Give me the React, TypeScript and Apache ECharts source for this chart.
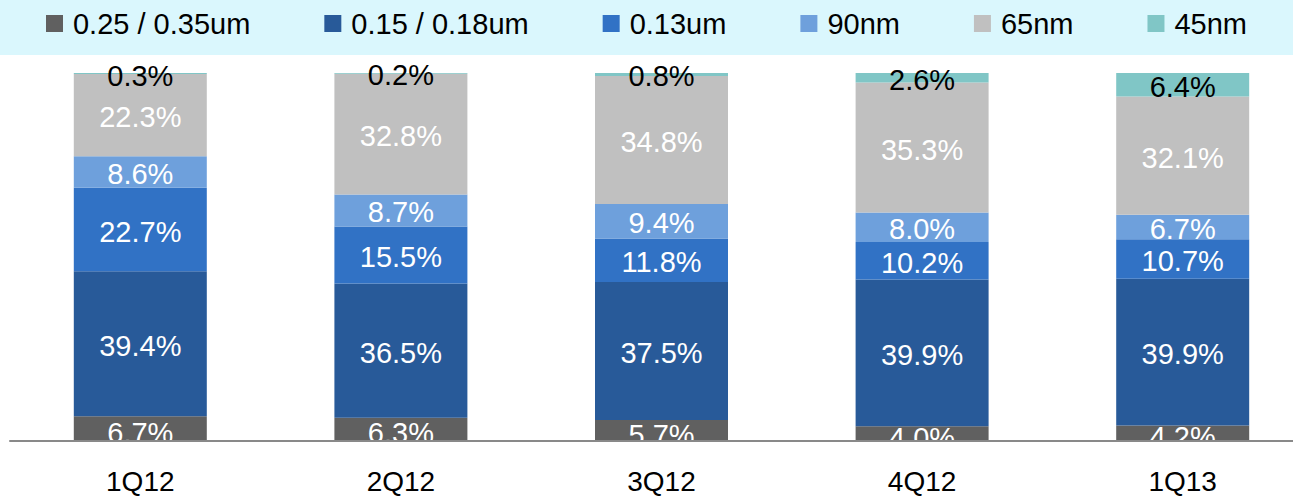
import React, { useEffect, useRef } from "react";
import * as echarts from "echarts";

const categories = ["1Q12", "2Q12", "3Q12", "4Q12", "1Q13"];
const seriesNames = ["0.25 / 0.35um", "0.15 / 0.18um", "0.13um", "90nm", "65nm", "45nm"];
const s025_035 = [6.7, 6.3, 5.7, 4.0, 4.2];
const s015_018 = [39.4, 36.5, 37.5, 39.9, 39.9];
const s013 = [22.7, 15.5, 11.8, 10.2, 10.7];
const s90 = [8.6, 8.7, 9.4, 8.0, 6.7];
const s65 = [22.3, 32.8, 34.8, 35.3, 32.1];
const s45 = [0.3, 0.2, 0.8, 2.6, 6.4];

const seriesValues = [s025_035, s015_018, s013, s90, s65, s45];
const colors = ["#606060", "#285A99", "#3172C5", "#6EA0DC", "#C0C0C0", "#80C6C6"];
const labelColors = ["#FFFFFF", "#FFFFFF", "#FFFFFF", "#FFFFFF", "#FFFFFF", "#000000"];

const FONT = "'Liberation Sans', Arial, sans-serif";

export default function App() {
  const ref = useRef<HTMLDivElement>(null);
  useEffect(() => {
    if (!ref.current) return;
    const chart = echarts.init(ref.current, undefined, { renderer: "svg" });
    chart.setOption({
      animation: false,
      textStyle: { fontFamily: FONT },
      graphic: [
        {
          type: "rect",
          z: -10,
          silent: true,
          shape: { x: 0, y: 0, width: 1293, height: 55 },
          style: { fill: "#DAF7FD" },
        },
        {
          type: "rect",
          z: 3,
          silent: true,
          shape: { x: 0, y: 441, width: 1293, height: 58 },
          style: { fill: "#FFFFFF" },
        },
      ],
      legend: {
        data: seriesNames,
        left: "center",
        top: 4,
        icon: "rect",
        itemWidth: 17,
        itemHeight: 17,
        itemGap: 74,
        textStyle: { fontSize: 29, color: "#000", fontFamily: FONT, padding: [0, 0, 0, 5] },
      },
      grid: {
        left: 10,
        width: 1303,
        top: 73,
        bottom: 58,
        containLabel: false,
        outerBoundsMode: "none",
      },
      xAxis: {
        type: "category",
        data: categories,
        z: 10,
        axisLine: { show: true, lineStyle: { color: "#898989", width: 2 } },
        axisTick: { show: false },
        axisLabel: { fontSize: 28, color: "#000", margin: 26, fontFamily: FONT },
      },
      yAxis: {
        type: "value",
        min: 0,
        max: 100,
        show: false,
        splitLine: { show: false },
      },
      series: seriesNames.map((name, i) => ({
        name,
        type: "bar",
        stack: "total",
        barWidth: 133,
        data: seriesValues[i],
        itemStyle: { color: colors[i] },
        label: {
          show: true,
          position: "inside",
          offset: i === 0 ? [0, 4] : [0, 2],
          color: labelColors[i],
          fontSize: 29,
          fontFamily: FONT,
          formatter: (p: any) => Number(p.value).toFixed(1) + "%",
        },
      })),
    });
    return () => chart.dispose();
  }, []);
  return (
    <div
      ref={ref}
      style={{ position: "absolute", left: 0, top: 0, width: 1293, height: 499 }}
    />
  );
}
